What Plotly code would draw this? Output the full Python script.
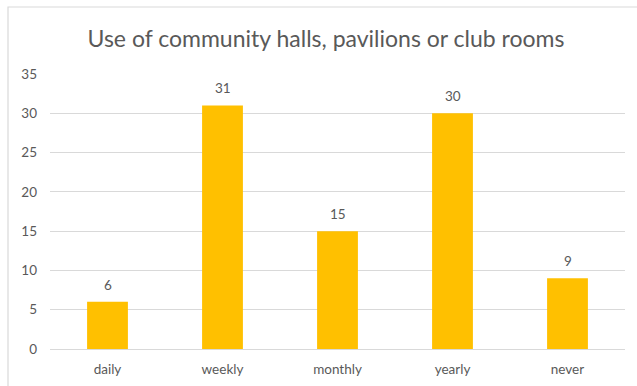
import plotly.graph_objects as go

categories = ["daily", "weekly", "monthly", "yearly", "never"]
values = [6, 31, 15, 30, 9]
y_ticks = [0, 5, 10, 15, 20, 25, 30, 35]

W, H = 637, 386
ML, MR, MT, MB = 50, 12, 74, 37
pw, ph = W - ML - MR, H - MT - MB

text_col = "#595959"
font_family = "Lato, Calibri, Carlito, sans-serif"

fig = go.Figure(
    go.Bar(
        x=categories,
        y=values,
        marker=dict(color="#FFC000", line=dict(width=0)),
        hoverinfo="x+y",
    )
)

# value labels above each bar
for c, v in zip(categories, values):
    fig.add_annotation(
        x=c, y=v, text=str(v), showarrow=False,
        yanchor="bottom", yshift=7,
        font=dict(size=13.5, color=text_col, family=font_family),
    )

# outer chart frame (light grey)
def px_x(p):
    return (p - ML) / pw

def px_y(p):
    return 1 - (p - MT) / ph

fig.add_shape(
    type="rect", xref="paper", yref="paper",
    x0=px_x(8), x1=px_x(660), y0=px_y(7), y1=px_y(400),
    line=dict(color="#D9D9D9", width=1.2), fillcolor="rgba(0,0,0,0)",
    layer="below",
)

fig.update_layout(
    width=W, height=H,
    margin=dict(l=ML, r=MR, t=MT, b=MB),
    paper_bgcolor="white", plot_bgcolor="white",
    bargap=0.645,
    showlegend=False,
    title=dict(
        text="Use of community halls, pavilions or club rooms",
        x=326 / W, xanchor="center",
        y=1 - 39 / H, yanchor="middle",
        font=dict(size=23, color=text_col, family=font_family),
    ),
    font=dict(family=font_family, color=text_col, size=13.5),
)
fig.update_xaxes(
    showgrid=False, showline=False, ticks="",
    tickfont=dict(size=13.5, color=text_col),
    ticklabelstandoff=10, automargin=False,
)
fig.update_yaxes(
    range=[0, 35], tickvals=y_ticks,
    showgrid=True, gridcolor="#D9D9D9", gridwidth=1,
    zeroline=True, zerolinecolor="#D9D9D9", zerolinewidth=1,
    showline=False, ticks="",
    tickfont=dict(size=13.5, color=text_col),
    ticklabelstandoff=12, automargin=False,
)

fig.write_html("out.html")
